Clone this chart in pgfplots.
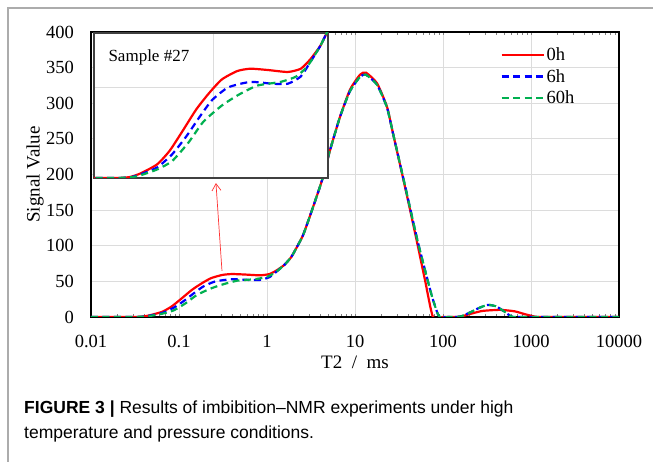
\documentclass[border=0pt]{standalone}
\usepackage{pgfplots}
\pgfplotsset{compat=1.18}
\usepackage{pgfplotstable}
\usetikzlibrary{arrows.meta}
\usepackage{fontspec}
\setmainfont{Liberation Serif}
\newfontfamily\capfont{Liberation Sans}
\definecolor{cred}{RGB}{255,0,0}
\definecolor{cblue}{RGB}{0,0,255}
\definecolor{cgreen}{RGB}{0,176,80}
\definecolor{gridc}{RGB}{220,220,220}

\pgfplotstableread{
x y
0.01 0
0.02 0
0.03 0
0.038 0.5
0.047 2.5
0.065 7.5
0.083 15
0.107 26
0.14 38
0.18 47
0.23 54.4
0.31 59
0.40 60.3
0.56 59.6
0.83 58.5
1.07 60.3
1.29 65.5
1.57 73
1.83 82
1.97 88
2.57 115
3.33 154
4.22 192
5.20 234
6.76 281
8.77 319
11.4 340
13.3 343
17.8 328
23.1 295
27.0 258
39.0 170
50.7 105
62.4 52
76.9 0
100 0
144 0
170 1.5
200 4
280 8.5
445 10
650 8
850 4
1100 0.5
1200 0
2000 0
10000 0
}\tzero

\pgfplotstableread{
x y
0.01 0
0.02 0
0.03 0
0.038 0.3
0.047 2
0.065 5.8
0.087 13
0.115 23
0.15 34
0.19 43
0.26 50
0.40 53
0.62 52
0.83 52
1.07 56
1.29 64
1.57 73
1.83 82
1.97 88
2.57 115
3.33 154
4.22 192
5.20 234
6.76 281
8.77 317
11.4 337
13.3 340
17.8 326
23.1 294
27.0 258
39.0 172
50.7 110
62.4 66
74.5 30
85 8
92 0
120 0
156 0.5
200 6
260 13
324 17
400 15
480 9
560 3
624 0
1000 0
10000 0
}\tsix

\pgfplotstableread{
x y
0.01 0
0.02 0
0.03 0
0.04 0.5
0.047 1.5
0.065 4.7
0.087 9.3
0.12 19.6
0.16 31
0.23 40
0.32 46
0.46 51
0.72 53
0.98 56
1.23 62
1.57 73
1.83 82
1.97 88
2.57 115
3.33 154
4.22 192
5.20 234
6.76 281
8.77 317
11.4 337
13.3 340
17.8 326
23.1 294
27.0 258
39.0 172
50.7 110
62.4 66
74.5 30
85 8
92 0
120 0
156 0.5
200 6
260 13
324 17
400 15
480 9
560 3
624 0
1000 0
10000 0
}\tsixty

\begin{document}
\begin{tikzpicture}[x=1pt,y=1pt]
\useasboundingbox (0,0) rectangle (653,462);
\fill[white] (0,0) rectangle (653,462);
\draw[gray!65, line width=1.2pt] (8,0) -- (8,454) -- (653,454);

\begin{axis}[
  at={(91pt,145pt)}, anchor=south west,
  scale only axis, width=528pt, height=285pt,
  xmode=log, xmin=0.01, xmax=10000, ymin=0, ymax=400,
  xtick={0.01,0.1,1,10,100,1000,10000},
  xticklabels={0.01,0.1,1,10,100,1000,10000},
  ytick={0,50,...,400},
  minor tick num=0,
  grid=major, major grid style={gridc, line width=0.9pt},
  major tick length=0pt,
  axis line style={black, line width=1.3pt},
  /pgf/number format/assume math mode=true,
  tick label style={font=\fontsize{18.5}{20}\selectfont},
  xticklabel style={inner sep=0pt, anchor=north, yshift=-18pt},
  yticklabel style={inner sep=0pt, anchor=east, xshift=-17pt},
  xlabel={T2 \ / \ ms},
  ylabel={Signal Value},
  label style={font=\fontsize{19}{20}\selectfont},
  xlabel style={at={(axis description cs:0.5,0)}, anchor=center, yshift=-45pt},
  ylabel style={at={(axis description cs:-0.106,0.5)}, anchor=center},
  legend style={at={(axis description cs:0.775,0.95)}, anchor=north west,
    draw=none, fill=none, font=\fontsize{18.5}{20}\selectfont,
    row sep=5.5pt, inner sep=0pt, nodes={inner xsep=2pt, inner ysep=1pt}},
  legend cell align=left,
  legend image code/.code={\draw[#1] (0pt,0pt) -- (42pt,0pt);},
  every axis plot/.append style={line width=2.2pt, smooth, tension=0.35},
]
\addplot[cred] table {\tzero};
\addplot[cblue, dash pattern=on 7pt off 4.5pt] table {\tsix};
\addplot[cgreen, dash pattern=on 7pt off 4.5pt] table {\tsixty};
\legend{0h,6h,60h}
\draw[red!80, line width=0.7pt, -{Straight Barb[length=7pt,width=9pt]}] (axis cs:0.308,64.6) -- (axis cs:0.263,188);
\end{axis}

\begin{axis}[
  at={(94pt,284pt)}, anchor=south west,
  scale only axis, width=234pt, height=145pt,
  xmode=log, xmin=0.019, xmax=1.82, ymin=0, ymax=80,
  xtick={0.194}, xticklabels={}, ytick={50}, yticklabels={},
  grid=major, major grid style={gridc, line width=0.9pt},
  major tick length=0pt,
  axis background/.style={fill=white},
  axis line style={black!75, line width=1.3pt},
  every axis plot/.append style={line width=2.2pt, smooth, tension=0.35},
]
\addplot[cred] table {\tzero};
\addplot[cblue, dash pattern=on 7pt off 4.5pt] table {\tsix};
\addplot[cgreen, dash pattern=on 7pt off 4.5pt] table {\tsixty};
\node[anchor=west, font=\fontsize{17}{19}\selectfont] at (axis description cs:0.047,0.834) {Sample \#27};
\end{axis}

\node[anchor=base west, inner sep=0pt, font=\capfont\fontsize{17.5}{20}\selectfont] at (24,48) {\textbf{FIGURE 3 |} Results of imbibition–NMR experiments under high};
\node[anchor=base west, inner sep=0pt, font=\capfont\fontsize{17.5}{20}\selectfont] at (24,23) {temperature and pressure conditions.};
\end{tikzpicture}
\end{document}
